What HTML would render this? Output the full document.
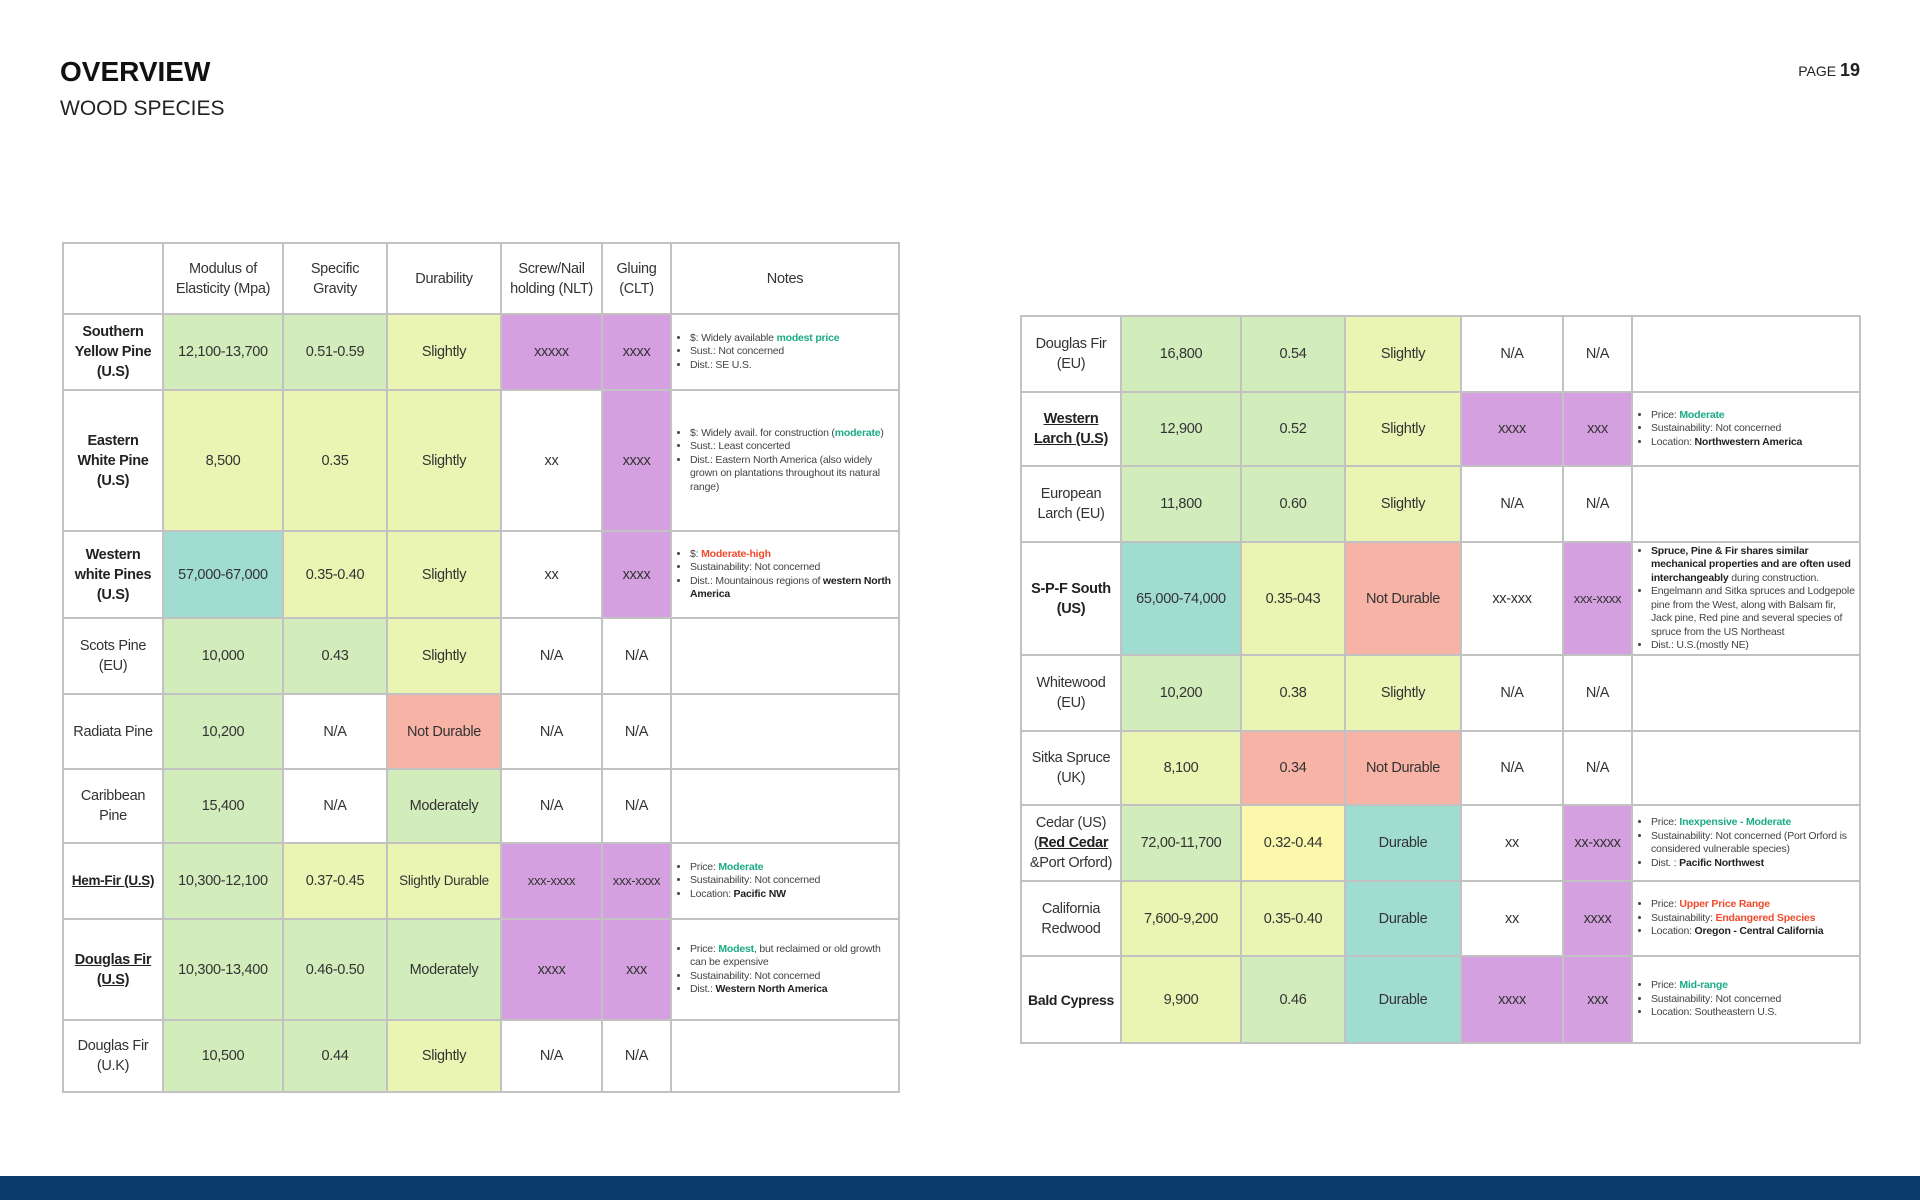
<!DOCTYPE html>
<html><head><meta charset="utf-8"><style>
body{margin:0;width:1920px;height:1200px;position:relative;background:#fff;font-family:"Liberation Sans",sans-serif;overflow:hidden;color:#333}
.t{position:absolute;border-collapse:collapse;table-layout:fixed;font-family:"Liberation Sans",sans-serif;font-size:14.5px;letter-spacing:-0.3px;color:#333}
.t td{border:2px solid #c2c2c2;text-align:center;vertical-align:middle;padding:0 1px;line-height:20px;overflow:hidden}
.t td.n{text-align:left;font-size:10.5px;line-height:13.5px;padding:0 4px 0 8px;color:#444;letter-spacing:-0.2px}
.n ul{margin:0;padding-left:10px}
.n li{margin:0}
.nw{white-space:nowrap}
.g{background:#d3ecbc}.y{background:#eaf5b3}.c{background:#a0ddd0}.p{background:#d5a0e0}.s{background:#f7b3a6}.yy{background:#fbf8ab}
.h{font-weight:bold;color:#222}.u{text-decoration:underline}
.gr{color:#1aab86;font-weight:bold}.rd{color:#f04a2c;font-weight:bold}.b{font-weight:bold;color:#222}
</style></head><body>
<div style="position:absolute;left:60px;top:56px;font-size:28px;font-weight:bold;color:#111">OVERVIEW</div>
<div style="position:absolute;left:60px;top:97px;font-size:21px;color:#222">WOOD SPECIES</div>
<div style="position:absolute;right:60px;top:60px;font-size:14px;color:#222">PAGE <b style="font-size:18px">19</b></div>

<table class="t" style="left:62px;top:242px;width:836px">
<colgroup><col style="width:100px"><col style="width:120px"><col style="width:104px"><col style="width:114px"><col style="width:101px"><col style="width:69px"><col style="width:228px"></colgroup>
<tr style="height:71px"><td></td><td>Modulus of<br>Elasticity (Mpa)</td><td>Specific<br>Gravity</td><td>Durability</td><td>Screw/Nail<br>holding (NLT)</td><td>Gluing<br>(CLT)</td><td>Notes</td></tr>
<tr style="height:76px"><td class="h">Southern<br>Yellow Pine<br>(U.S)</td><td class="g">12,100-13,700</td><td class="g">0.51-0.59</td><td class="y">Slightly</td><td class="p">xxxxx</td><td class="p">xxxx</td><td class="n"><ul><li>$: Widely available <span class="gr">modest price</span></li><li>Sust.: Not concerned</li><li>Dist.: SE U.S.</li></ul></td></tr>
<tr style="height:141px"><td class="h">Eastern<br>White Pine<br>(U.S)</td><td class="y">8,500</td><td class="y">0.35</td><td class="y">Slightly</td><td>xx</td><td class="p">xxxx</td><td class="n"><ul><li>$: Widely avail. for construction (<span class="gr">moderate</span>)</li><li>Sust.: Least concerted</li><li>Dist.: Eastern North America (also widely grown on plantations throughout its natural range)</li></ul></td></tr>
<tr style="height:87px"><td class="h">Western<br>white Pines<br>(U.S)</td><td class="c">57,000-67,000</td><td class="y">0.35-0.40</td><td class="y">Slightly</td><td>xx</td><td class="p">xxxx</td><td class="n"><ul><li>$: <span class="rd">Moderate-high</span></li><li>Sustainability: Not concerned</li><li>Dist.: Mountainous regions of <span class="b">western North America</span></li></ul></td></tr>
<tr style="height:76px"><td>Scots Pine<br>(EU)</td><td class="g">10,000</td><td class="g">0.43</td><td class="y">Slightly</td><td>N/A</td><td>N/A</td><td class="n"></td></tr>
<tr style="height:75px"><td class="nw">Radiata Pine</td><td class="g">10,200</td><td>N/A</td><td class="s">Not Durable</td><td>N/A</td><td>N/A</td><td class="n"></td></tr>
<tr style="height:74px"><td>Caribbean<br>Pine</td><td class="g">15,400</td><td>N/A</td><td class="g">Moderately</td><td>N/A</td><td>N/A</td><td class="n"></td></tr>
<tr style="height:76px"><td class="h u nw" style="font-size:13.5px">Hem-Fir (U.S)</td><td class="g">10,300-12,100</td><td class="y">0.37-0.45</td><td class="y nw" style="font-size:13.5px">Slightly Durable</td><td class="p nw" style="font-size:13px">xxx-xxxx</td><td class="p nw" style="font-size:13px">xxx-xxxx</td><td class="n"><ul><li>Price: <span class="gr">Moderate</span></li><li>Sustainability: Not concerned</li><li>Location: <span class="b">Pacific NW</span></li></ul></td></tr>
<tr style="height:101px"><td class="h u">Douglas Fir<br>(U.S)</td><td class="g">10,300-13,400</td><td class="g">0.46-0.50</td><td class="g">Moderately</td><td class="p">xxxx</td><td class="p">xxx</td><td class="n"><ul><li>Price: <span class="gr">Modest</span>, but reclaimed or old growth can be expensive</li><li>Sustainability: Not concerned</li><li>Dist.: <span class="b">Western North America</span></li></ul></td></tr>
<tr style="height:72px"><td>Douglas Fir<br>(U.K)</td><td class="g">10,500</td><td class="g">0.44</td><td class="y">Slightly</td><td>N/A</td><td>N/A</td><td class="n"></td></tr>
</table>

<table class="t" style="left:1020px;top:315px;width:839px">
<colgroup><col style="width:100px"><col style="width:120px"><col style="width:104px"><col style="width:116px"><col style="width:102px"><col style="width:69px"><col style="width:228px"></colgroup>
<tr style="height:76px"><td>Douglas Fir<br>(EU)</td><td class="g">16,800</td><td class="g">0.54</td><td class="y">Slightly</td><td>N/A</td><td>N/A</td><td class="n"></td></tr>
<tr style="height:74px"><td class="h u">Western<br>Larch (U.S)</td><td class="g">12,900</td><td class="g">0.52</td><td class="y">Slightly</td><td class="p">xxxx</td><td class="p">xxx</td><td class="n"><ul><li>Price: <span class="gr">Moderate</span></li><li>Sustainability: Not concerned</li><li>Location: <span class="b">Northwestern America</span></li></ul></td></tr>
<tr style="height:76px"><td>European<br>Larch (EU)</td><td class="g">11,800</td><td class="g">0.60</td><td class="y">Slightly</td><td>N/A</td><td>N/A</td><td class="n"></td></tr>
<tr style="height:113px"><td class="h">S-P-F South<br>(US)</td><td class="c">65,000-74,000</td><td class="y">0.35-043</td><td class="s">Not Durable</td><td>xx-xxx</td><td class="p nw" style="font-size:13px">xxx-xxxx</td><td class="n"><ul><li><span class="b">Spruce, Pine &amp; Fir shares similar mechanical properties and are often used interchangeably</span> during construction.</li><li>Engelmann and Sitka spruces and Lodgepole pine from the West, along with Balsam fir, Jack pine, Red pine and several species of spruce from the US Northeast</li><li>Dist.: U.S.(mostly NE)</li></ul></td></tr>
<tr style="height:76px"><td>Whitewood<br>(EU)</td><td class="g">10,200</td><td class="y">0.38</td><td class="y">Slightly</td><td>N/A</td><td>N/A</td><td class="n"></td></tr>
<tr style="height:74px"><td>Sitka Spruce<br>(UK)</td><td class="y">8,100</td><td class="s">0.34</td><td class="s">Not Durable</td><td>N/A</td><td>N/A</td><td class="n"></td></tr>
<tr style="height:76px"><td>Cedar (US)<br>(<b class="u" style="color:#222">Red Cedar</b><br><span class="nw">&amp;Port Orford)</span></td><td class="g">72,00-11,700</td><td class="yy">0.32-0.44</td><td class="c">Durable</td><td>xx</td><td class="p">xx-xxxx</td><td class="n"><ul><li>Price: <span class="gr">Inexpensive - Moderate</span></li><li>Sustainability: Not concerned (Port Orford is considered vulnerable species)</li><li>Dist. : <span class="b">Pacific Northwest</span></li></ul></td></tr>
<tr style="height:75px"><td>California<br>Redwood</td><td class="y">7,600-9,200</td><td class="y">0.35-0.40</td><td class="c">Durable</td><td>xx</td><td class="p">xxxx</td><td class="n"><ul><li>Price: <span class="rd">Upper Price Range</span></li><li>Sustainability: <span class="rd">Endangered Species</span></li><li>Location: <span class="b">Oregon - Central California</span></li></ul></td></tr>
<tr style="height:87px"><td class="h nw" style="font-size:14px">Bald Cypress</td><td class="y">9,900</td><td class="g">0.46</td><td class="c">Durable</td><td class="p">xxxx</td><td class="p">xxx</td><td class="n"><ul><li>Price: <span class="gr">Mid-range</span></li><li>Sustainability: Not concerned</li><li>Location: Southeastern U.S.</li></ul></td></tr>
</table>

<div style="position:absolute;left:0;top:1176px;width:1920px;height:24px;background:#0b3a6d"></div>
</body></html>
